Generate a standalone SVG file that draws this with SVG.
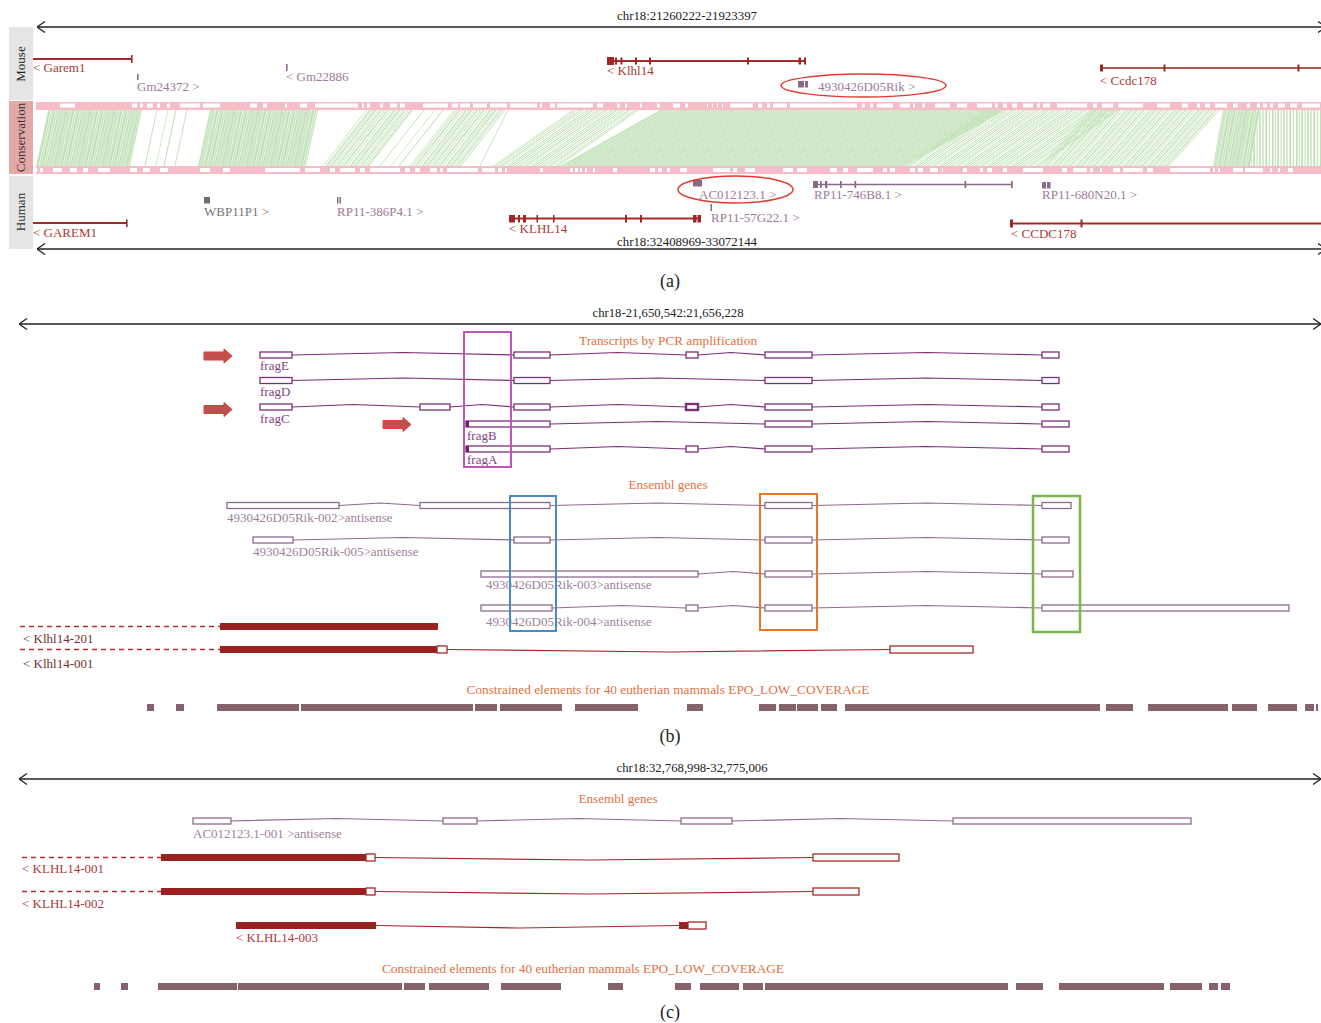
<svg xmlns="http://www.w3.org/2000/svg" width="1321" height="1023" viewBox="0 0 1321 1023">
<style>
text{font-family:"Liberation Serif","Times New Roman",serif;font-size:13px}
.ax{stroke:#222;stroke-width:1.4;fill:none}
.lbl{fill:#222}
.gr{fill:#a83a36}
.pg{fill:#9c7a98}
.gy{fill:#777}
.or{fill:#e2713f}
.fr{fill:#85417f}
.en{fill:#9e7f9b}
.k1{fill:#70302e}
.k2{fill:#aa3a38}
.gl{stroke:#a52a2a;stroke-width:1.8;fill:none}
.gf{fill:#a02525}
.pl{stroke:#8a6a88;stroke-width:1.5;fill:none}
.pf{fill:#8a6a88}
.ex{fill:#fff;stroke:#7d2e78;stroke-width:1.3}
.in{fill:none;stroke:#7d2e78;stroke-width:1.2}
.ex2{fill:#fff;stroke:#8f6a8d;stroke-width:1.3}
.in2{fill:none;stroke:#8f6a8d;stroke-width:1.2}
.rb{fill:#9b2020}
.rex{fill:#fff;stroke:#a52a2a;stroke-width:1.3}
.rin{fill:none;stroke:#a52a2a;stroke-width:1.2}
.dash{stroke:#b03030;stroke-width:1.3;stroke-dasharray:5 4;fill:none}
.ce{fill:#86636b}
.arr{fill:#c0504d;stroke:#e8393a;stroke-width:1}
.ell{fill:none;stroke:#e03a30;stroke-width:1.5}
.pk{fill:#f6bcc7}
.wh{fill:#fff}
.box{fill:none;stroke-width:2}
</style>
<defs>
<marker id="ch" viewBox="0 0 9 12" refX="8.5" refY="6" markerWidth="9" markerHeight="12" markerUnits="userSpaceOnUse" orient="auto-start-reverse"><path d="M0.5 0.5L8.5 6L0.5 11.5" fill="none" stroke="#222" stroke-width="1.3"/></marker>
<g id="sD" fill="#c0e0b5"><rect x="0" width="2.2" height="60"/><rect x="2.8" width="1.6" height="60"/><rect x="5" width="2.4" height="60"/><rect x="8" width="1.2" height="60"/><rect x="9.8" width="2" height="60"/><rect x="12.5" width="2.2" height="60"/><rect x="15.3" width="1.4" height="60"/><rect x="17.2" width="2.4" height="60"/><rect x="20.2" width="1.6" height="60"/><rect x="22.4" width="1.1" height="60"/></g>
<g id="sM" fill="#c0e0b5"><rect x="0" width="1.6" height="60"/><rect x="2.8" width="1" height="60"/><rect x="5.2" width="1.8" height="60"/><rect x="8.6" width="1" height="60"/><rect x="11" width="1.6" height="60"/><rect x="14.4" width="1.2" height="60"/><rect x="17.4" width="1.8" height="60"/><rect x="20.8" width="1" height="60"/></g>
<g id="sS" fill="#c0e0b5"><rect x="0" width="0.9" height="60"/><rect x="11" width="0.7" height="60"/><rect x="19" width="1.1" height="60"/></g>
<pattern id="p12D" patternUnits="userSpaceOnUse" width="24" height="60" patternTransform="skewX(-12.1)"><use href="#sD"/></pattern>
<pattern id="p12S" patternUnits="userSpaceOnUse" width="30" height="60" patternTransform="skewX(-12.1)"><use href="#sS"/></pattern>
<pattern id="p38M" patternUnits="userSpaceOnUse" width="24" height="60" patternTransform="skewX(-38.2)"><use href="#sM"/></pattern>
<pattern id="p38S" patternUnits="userSpaceOnUse" width="30" height="60" patternTransform="skewX(-38.2)"><use href="#sS"/></pattern>
<pattern id="p55M" patternUnits="userSpaceOnUse" width="24" height="60" patternTransform="skewX(-55)"><use href="#sM"/></pattern>
<pattern id="p61D" patternUnits="userSpaceOnUse" width="24" height="60" patternTransform="skewX(-60.75)"><use href="#sD"/></pattern>
<pattern id="p42M" patternUnits="userSpaceOnUse" width="24" height="60" patternTransform="skewX(-41.8)"><use href="#sM"/></pattern>
<pattern id="p10D" patternUnits="userSpaceOnUse" width="24" height="60" patternTransform="skewX(-10.1)"><use href="#sD"/></pattern>
<pattern id="p0M" patternUnits="userSpaceOnUse" width="24" height="60"><use href="#sM"/></pattern>
</defs>
<rect width="1321" height="1023" fill="#fff"/>

<!-- ============ Panel (a) ============ -->
<g id="panel-a">
<g id="a-axes">
<line class="ax" x1="37" y1="27" x2="1326" y2="27" marker-start="url(#ch)" marker-end="url(#ch)"/>
<text class="lbl" x="687" y="20" text-anchor="middle" textLength="140" lengthAdjust="spacingAndGlyphs">chr18:21260222-21923397</text>
<line class="ax" x1="37" y1="249" x2="1326" y2="249" marker-start="url(#ch)" marker-end="url(#ch)"/>
<text class="lbl" x="687" y="246" text-anchor="middle" textLength="140" lengthAdjust="spacingAndGlyphs">chr18:32408969-33072144</text>
</g>
<g id="side-labels">
<rect x="9" y="27" width="24" height="73" fill="#e5e5e7"/>
<text class="lbl" transform="translate(25,64) rotate(-90)" text-anchor="middle" fill="#333">Mouse</text>
<rect x="9" y="101" width="24" height="73" fill="#e2a9a6"/>
<text transform="translate(25,137.5) rotate(-90)" text-anchor="middle" fill="#333">Conservation</text>
<rect x="9" y="176" width="24" height="73" fill="#e5e5e7"/>
<text transform="translate(25,212) rotate(-90)" text-anchor="middle" fill="#333">Human</text>
</g>
<g id="mouse-track">
<line class="gl" x1="33" y1="59" x2="132" y2="59"/><rect class="gf" x="131" y="55" width="1.6" height="8"/>
<text class="gr" x="33" y="72">&lt; Garem1</text>
<rect class="pf" x="137" y="74" width="1.6" height="6"/>
<text class="pg" x="137" y="91">Gm24372 &gt;</text>
<rect class="pf" x="286" y="64" width="1.6" height="7"/>
<text class="pg" x="286" y="81">&lt; Gm22886</text>
<line class="gl" x1="607" y1="61" x2="806" y2="61"/>
<g class="gf"><rect x="607" y="57" width="7" height="8"/><rect x="615" y="57.5" width="2" height="7"/><rect x="620.5" y="57.5" width="2" height="7"/><rect x="635" y="57.5" width="2" height="7"/><rect x="649" y="57.5" width="2" height="7"/><rect x="747" y="57.5" width="2" height="7"/><rect x="798.5" y="57.5" width="2.5" height="7"/><rect x="804" y="57.5" width="2" height="7"/></g>
<text class="gr" x="607" y="75">&lt; Klhl14</text>
<rect class="pf" x="798" y="81" width="6" height="6.5"/><rect class="pf" x="805" y="81" width="3" height="6.5"/>
<text class="pg" x="818" y="91">4930426D05Rik &gt;</text>
<ellipse class="ell" cx="863.5" cy="85.5" rx="82.5" ry="11.5"/>
<line x1="1101" y1="68" x2="1321" y2="68" stroke="#b25555" stroke-width="1.8"/>
<g class="gf"><rect x="1100" y="64.5" width="3" height="7"/><rect x="1163.5" y="64.5" width="2" height="7"/><rect x="1297.5" y="64.5" width="2" height="7"/></g>
<text class="gr" x="1100" y="85">&lt; Ccdc178</text>
</g>
<g id="conservation">
<rect class="pk" x="36" y="102" width="1285" height="8"/>
<path class="wh" d="M60 103.5h15v4h-15zM132 103.5h5v4h-5zM140 103.5h3v4h-3zM147 103.5h6v4h-6zM157 103.5h3v4h-3zM167 103.5h3v4h-3zM180 103.5h20v4h-20zM203 103.5h17v4h-17zM250 103.5h7v4h-7zM263 103.5h4v4h-4zM285 103.5h2v4h-2zM300 103.5h7v4h-7zM315 103.5h43v4h-43zM362 103.5h2v4h-2zM367 103.5h3v4h-3zM380 103.5h3v4h-3zM390 103.5h7v4h-7zM400 103.5h5v4h-5zM423 103.5h25v4h-25zM452 103.5h6v4h-6zM460 103.5h10v4h-10zM473 103.5h14v4h-14zM490 103.5h17v4h-17zM510 103.5h27v4h-27zM540 103.5h2v4h-2zM550 103.5h5v4h-5zM557 103.5h36v4h-36zM597 103.5h6v4h-6zM617 103.5h3v4h-3zM625 103.5h2v4h-2zM640 103.5h2v4h-2zM657 103.5h3v4h-3zM673 103.5h7v4h-7zM685 103.5h3v4h-3zM707 103.5h1v4h-1zM712 103.5h1v4h-1zM717 103.5h1v4h-1zM722 103.5h1v4h-1zM730 103.5h23v4h-23zM758 103.5h4v4h-4zM767 103.5h3v4h-3zM773 103.5h14v4h-14zM790 103.5h67v4h-67zM862 103.5h3v4h-3zM870 103.5h3v4h-3zM877 103.5h16v4h-16zM900 103.5h10v4h-10zM913 103.5h2v4h-2zM922 103.5h3v4h-3zM935 103.5h15v4h-15zM957 103.5h10v4h-10zM977 103.5h15v4h-15zM995 103.5h3v4h-3zM1003 103.5h4v4h-4zM1012 103.5h5v4h-5zM1023 103.5h10v4h-10zM1037 103.5h3v4h-3zM1043 103.5h7v4h-7zM1057 103.5h30v4h-30zM1093 103.5h4v4h-4zM1102 103.5h11v4h-11zM1118 103.5h25v4h-25zM1157 103.5h13v4h-13zM1182 103.5h6v4h-6zM1197 103.5h3v4h-3zM1205 103.5h5v4h-5zM1215 103.5h12v4h-12zM1233 103.5h5v4h-5zM1247 103.5h3v4h-3zM1257 103.5h3v4h-3zM1263 103.5h4v4h-4zM1270 103.5h3v4h-3zM1278 103.5h7v4h-7zM1290 103.5h7v4h-7zM1302 103.5h18v4h-18z"/>
<polygon points="36,166 130,166 142,110 48,110" fill="url(#p12D)"/>
<polygon points="136,166 178,166 190,110 148,110" fill="url(#p12S)"/>
<polygon points="198,166 306,166 318,110 210,110" fill="url(#p12D)"/>
<polygon points="322,166 370,166 414,110 366,110" fill="url(#p38M)"/>
<polygon points="370,166 410,166 454,110 414,110" fill="url(#p38S)"/>
<polygon points="410,166 462,166 506,110 454,110" fill="url(#p38M)"/>
<line x1="480" y1="166" x2="508" y2="110" stroke="#c0e0b5" stroke-width="0.8"/>
<polygon points="492,166 560,166 640,110 572,110" fill="url(#p55M)"/>
<polygon points="560,166 905,166 1005,110 660,110" fill="url(#p61D)"/>
<polygon points="905,166 1040,166 1120,110 985,110" fill="url(#p55M)"/>
<polygon points="1040,166 1170,166 1220,110 1090,110" fill="url(#p42M)"/>
<polygon points="1213,166 1250,166 1260,110 1223,110" fill="url(#p10D)"/>
<polygon points="1250,166 1321,166 1321,110 1260,110" fill="url(#p0M)"/>
<rect class="pk" x="36" y="166" width="1285" height="8"/>
<path class="wh" d="M36 168h1v4h-1zM40 168h3v4h-3zM53 168h9v4h-9zM70 168h7v4h-7zM83 168h5v4h-5zM98 168h12v4h-12zM130 168h7v4h-7zM143 168h7v4h-7zM160 168h8v4h-8zM200 168h10v4h-10zM223 168h7v4h-7zM265 168h35v4h-35zM305 168h15v4h-15zM330 168h5v4h-5zM340 168h15v4h-15zM360 168h5v4h-5zM370 168h30v4h-30zM405 168h5v4h-5zM415 168h5v4h-5zM430 168h7v4h-7zM440 168h3v4h-3zM447 168h31v4h-31zM482 168h13v4h-13zM498 168h4v4h-4zM505 168h2v4h-2zM540 168h3v4h-3zM570 168h3v4h-3zM575 168h3v4h-3zM580 168h2v4h-2zM585 168h2v4h-2zM593 168h2v4h-2zM613 168h4v4h-4zM650 168h5v4h-5zM658 168h4v4h-4zM667 168h3v4h-3zM680 168h7v4h-7zM713 168h17v4h-17zM733 168h4v4h-4zM745 168h10v4h-10zM783 168h10v4h-10zM797 168h10v4h-10zM830 168h7v4h-7zM843 168h5v4h-5zM857 168h16v4h-16zM883 168h4v4h-4zM890 168h5v4h-5zM910 168h5v4h-5zM918 168h5v4h-5zM930 168h8v4h-8zM942 168h1v4h-1zM963 168h4v4h-4zM980 168h3v4h-3zM987 168h5v4h-5zM1003 168h4v4h-4zM1023 168h20v4h-20zM1062 168h5v4h-5zM1073 168h14v4h-14zM1090 168h3v4h-3zM1100 168h2v4h-2zM1113 168h7v4h-7zM1123 168h20v4h-20zM1147 168h6v4h-6zM1170 168h40v4h-40zM1213 168h2v4h-2zM1218 168h2v4h-2zM1233 168h10v4h-10zM1245 168h18v4h-18zM1270 168h2v4h-2zM1278 168h2v4h-2zM1288 168h5v4h-5z"/>
</g>
<g id="human-track">
<rect x="204" y="197" width="6" height="6.5" fill="#6e6e6e"/>
<text class="gy" x="204" y="216">WBP11P1 &gt;</text>
<rect class="pf" x="337" y="197" width="1.5" height="6.5"/><rect class="pf" x="339.5" y="197" width="1.5" height="6.5"/>
<text class="pg" x="337" y="216">RP11-386P4.1 &gt;</text>
<rect class="pf" x="693" y="180" width="9" height="6.5"/>
<text class="pg" x="699" y="199">AC012123.1 &gt;</text>
<ellipse class="ell" cx="735.5" cy="189.5" rx="57.5" ry="13.5"/>
<rect class="pf" x="710.5" y="204" width="1.5" height="7"/>
<text class="pg" x="711" y="222">RP11-57G22.1 &gt;</text>
<line class="pl" x1="814" y1="184.5" x2="1012" y2="184.5"/>
<g class="pf"><rect x="813" y="181" width="5" height="7"/><rect x="820" y="181" width="1.7" height="7"/><rect x="825" y="181" width="2.3" height="7"/><rect x="840" y="181" width="1.7" height="7"/><rect x="854.5" y="181" width="1.7" height="7"/><rect x="964.5" y="181" width="1.7" height="7"/><rect x="1011" y="181" width="1.7" height="7"/></g>
<text class="pg" x="814" y="199">RP11-746B8.1 &gt;</text>
<rect class="pf" x="1042" y="182" width="4" height="6.5"/><rect class="pf" x="1047" y="182" width="3.5" height="6.5"/>
<text class="pg" x="1042" y="199">RP11-680N20.1 &gt;</text>
<line class="gl" x1="33" y1="223" x2="127" y2="223"/><rect class="gf" x="126" y="219.5" width="1.6" height="7.5"/>
<text class="gr" x="33" y="237">&lt; GAREM1</text>
<line class="gl" x1="510" y1="218.5" x2="700" y2="218.5"/>
<g class="gf"><rect x="509" y="215" width="6" height="7.5"/><rect x="518" y="215" width="2" height="7.5"/><rect x="523" y="215" width="3" height="7.5"/><rect x="536.5" y="215" width="1.5" height="7.5"/><rect x="553" y="215" width="1.5" height="7.5"/><rect x="625" y="215" width="2" height="7.5"/><rect x="640" y="215" width="2" height="7.5"/><rect x="693" y="215" width="3.5" height="7.5"/><rect x="697.5" y="215" width="3.5" height="7.5"/></g>
<text class="gr" x="509" y="233">&lt; KLHL14</text>
<line class="gl" x1="1011" y1="223.5" x2="1321" y2="223.5"/>
<g class="gf"><rect x="1010" y="219.5" width="3" height="8"/><rect x="1080.5" y="219.5" width="2" height="8"/></g>
<text class="gr" x="1011" y="238">&lt; CCDC178</text>
</g>
<text class="lbl" x="670" y="287" text-anchor="middle" style="font-size:18px">(a)</text>
</g>

<!-- ============ Panel (b) ============ -->
<g id="panel-b">
<line class="ax" x1="19" y1="324" x2="1321" y2="324" marker-start="url(#ch)" marker-end="url(#ch)"/>
<text class="lbl" x="668" y="317" text-anchor="middle" textLength="151" lengthAdjust="spacingAndGlyphs">chr18-21,650,542:21,656,228</text>
<text class="or" x="668" y="345" text-anchor="middle" textLength="178" lengthAdjust="spacingAndGlyphs">Transcripts by PCR amplification</text>
<g id="pcr-arrows">
<path class="arr" d="M204 352H224V349L232 356L224 363V360H204Z"/>
<path class="arr" d="M204 405.5H224V402.5L232 409.5L224 416.5V413.5H204Z"/>
<path class="arr" d="M383 420.5H403V417.5L411 424.5L403 431.5V428.5H383Z"/>
</g>
<g id="fragE">
<path class="in" d="M292 355L403 352.5L514 355M550 355L618 352.5L686 355M698 355L731 352.5L765 355M812 355L927 352.5L1042 355"/>
<rect class="ex" x="260" y="352" width="32" height="6"/><rect class="ex" x="514" y="352" width="36" height="6"/><rect class="ex" x="686" y="352" width="12" height="6"/><rect class="ex" x="765" y="352" width="47" height="6"/><rect class="ex" x="1042" y="352" width="17" height="6"/>
<text class="fr" x="260" y="370">fragE</text>
</g>
<g id="fragD">
<path class="in" d="M292 380.5L403 378L514 380.5M550 380.5L658 378L765 380.5M812 380.5L927 378L1042 380.5"/>
<rect class="ex" x="260" y="377.5" width="32" height="6"/><rect class="ex" x="514" y="377.5" width="36" height="6"/><rect class="ex" x="765" y="377.5" width="47" height="6"/><rect class="ex" x="1042" y="377.5" width="17" height="6"/>
<text class="fr" x="260" y="396">fragD</text>
</g>
<g id="fragC">
<path class="in" d="M292 407L353 404.5L420 407M450 407L482 404.5L514 407M550 407L618 404.5L686 407M698 407L731 404.5L765 407M812 407L927 404.5L1042 407"/>
<rect class="ex" x="260" y="404" width="32" height="6"/><rect class="ex" x="420" y="404" width="30" height="6"/><rect class="ex" x="514" y="404" width="36" height="6"/><rect class="ex" x="686" y="404" width="12" height="6" style="stroke-width:2.4"/><rect class="ex" x="765" y="404" width="47" height="6"/><rect class="ex" x="1042" y="404" width="17" height="6"/>
<text class="fr" x="260" y="423">fragC</text>
</g>
<g id="fragB">
<path class="in" d="M550 424L658 421.5L765 424M812 424L927 421.5L1042 424"/>
<rect class="ex" x="466" y="421" width="84" height="6"/><rect x="466" y="421" width="3" height="6" fill="#6a2462"/><rect class="ex" x="765" y="421" width="47" height="6"/><rect class="ex" x="1042" y="421" width="27" height="6"/>
<text class="fr" x="467" y="440">fragB</text>
</g>
<g id="fragA">
<path class="in" d="M550 449L618 446.5L686 449M698 449L731 446.5L765 449M812 449L927 446.5L1042 449"/>
<rect class="ex" x="466" y="446" width="84" height="6"/><rect x="466" y="446" width="3" height="6" fill="#6a2462"/><rect class="ex" x="686" y="446" width="12" height="6"/><rect class="ex" x="765" y="446" width="47" height="6"/><rect class="ex" x="1042" y="446" width="27" height="6"/>
<text class="fr" x="467" y="464">fragA</text>
</g>
<rect class="box" x="464" y="332" width="47" height="135" stroke="#c055b5"/>
<text class="or" x="668" y="489" text-anchor="middle" textLength="79" lengthAdjust="spacingAndGlyphs">Ensembl genes</text>
<g id="rik-002">
<path class="in2" d="M339 505.5L380 503L420 505.5M550 505.5L658 503L765 505.5M812 505.5L927 503L1042 505.5"/>
<rect class="ex2" x="227" y="502.5" width="112" height="6"/><rect class="ex2" x="420" y="502.5" width="130" height="6"/><rect class="ex2" x="765" y="502.5" width="47" height="6"/><rect class="ex2" x="1042" y="502.5" width="29" height="6"/>
<text class="en" x="227" y="522">4930426D05Rik-002&gt;antisense</text>
</g>
<g id="rik-005">
<path class="in2" d="M293 540L403 537.5L514 540M550 540L658 537.5L765 540M812 540L927 537.5L1042 540"/>
<rect class="ex2" x="253" y="537" width="40" height="6"/><rect class="ex2" x="514" y="537" width="36" height="6"/><rect class="ex2" x="765" y="537" width="47" height="6"/><rect class="ex2" x="1042" y="537" width="27" height="6"/>
<text class="en" x="253" y="556">4930426D05Rik-005&gt;antisense</text>
</g>
<g id="rik-003">
<path class="in2" d="M698 574L733 571.5L765 574M812 574L927 571.5L1042 574"/>
<rect class="ex2" x="481" y="571" width="217" height="6"/><rect class="ex2" x="765" y="571" width="47" height="6"/><rect class="ex2" x="1042" y="571" width="31" height="6"/>
<text class="en" x="486" y="589">4930426D05Rik-003&gt;antisense</text>
</g>
<g id="rik-004">
<path class="in2" d="M552 608L622 605.5L686 608M698 608L733 605.5L765 608M812 608L927 605.5L1042 608"/>
<rect class="ex2" x="481" y="605" width="71" height="6"/><rect class="ex2" x="686" y="605" width="12" height="6"/><rect class="ex2" x="765" y="605" width="47" height="6"/><rect class="ex2" x="1042" y="605" width="247" height="6"/>
<text class="en" x="486" y="626">4930426D05Rik-004&gt;antisense</text>
</g>
<rect class="box" x="510" y="496" width="46" height="135" stroke="#4a88cc"/>
<rect class="box" x="760" y="494" width="57" height="136" stroke="#e8762a"/>
<rect class="box" x="1033" y="496" width="47" height="136" stroke="#7ab648" style="stroke-width:2.5"/>
<g id="klhl14-201">
<line class="dash" x1="20" y1="626.5" x2="220" y2="626.5"/>
<rect class="rb" x="220" y="623" width="218" height="7"/>
<text class="k1" x="23" y="643">&lt; Klhl14-201</text>
</g>
<g id="klhl14-001">
<line class="dash" x1="20" y1="649.5" x2="220" y2="649.5"/>
<path class="rin" d="M447 649.5L670 652L890 649.5"/>
<rect class="rb" x="220" y="646" width="217" height="7"/>
<rect class="rex" x="437" y="646" width="10" height="7"/>
<rect class="rex" x="890" y="646" width="83" height="7"/>
<text class="k1" x="23" y="668">&lt; Klhl14-001</text>
</g>
<text class="or" x="668" y="694" text-anchor="middle" textLength="403" lengthAdjust="spacingAndGlyphs">Constrained elements for 40 eutherian mammals EPO_LOW_COVERAGE</text>
<path class="ce" d="M147 704h7v7h-7zM176 704h8v7h-8zM217 704h82v7h-82zM301 704h172v7h-172zM475 704h22v7h-22zM500 704h62v7h-62zM575 704h63v7h-63zM687 704h16v7h-16zM759 704h17v7h-17zM779 704h17v7h-17zM797 704h21v7h-21zM821 704h16v7h-16zM845 704h255v7h-255zM1106 704h27v7h-27zM1148 704h80v7h-80zM1232 704h25v7h-25zM1268 704h29v7h-29zM1305 704h9v7h-9zM1316 704h2v7h-2z"/>
<text class="lbl" x="670" y="742" text-anchor="middle" style="font-size:18px">(b)</text>
</g>

<!-- ============ Panel (c) ============ -->
<g id="panel-c">
<line class="ax" x1="19" y1="779" x2="1321" y2="779" marker-start="url(#ch)" marker-end="url(#ch)"/>
<text class="lbl" x="692" y="772" text-anchor="middle" textLength="151" lengthAdjust="spacingAndGlyphs">chr18:32,768,998-32,775,006</text>
<text class="or" x="618" y="803" text-anchor="middle" textLength="79" lengthAdjust="spacingAndGlyphs">Ensembl genes</text>
<g id="ac012123">
<path class="in2" d="M231 821L337 818.5L443 821M477 821L578 818.5L681 821M732 821L840 818.5L953 821"/>
<rect class="ex2" x="193" y="818" width="38" height="6"/><rect class="ex2" x="443" y="818" width="34" height="6"/><rect class="ex2" x="681" y="818" width="51" height="6"/><rect class="ex2" x="953" y="818" width="238" height="6"/>
<text class="en" x="193" y="838">AC012123.1-001 &gt;antisense</text>
</g>
<g id="KLHL14-001">
<line class="dash" x1="22" y1="857.5" x2="161" y2="857.5"/>
<path class="rin" d="M375 857.5L590 860L813 857.5"/>
<rect class="rb" x="161" y="854" width="205" height="7"/>
<rect class="rex" x="366" y="854" width="9" height="7"/>
<rect class="rex" x="813" y="854" width="86" height="7"/>
<text class="k2" x="22" y="873">&lt; KLHL14-001</text>
</g>
<g id="KLHL14-002">
<line class="dash" x1="22" y1="891.5" x2="161" y2="891.5"/>
<path class="rin" d="M375 891.5L590 894L813 891.5"/>
<rect class="rb" x="161" y="888" width="205" height="7"/>
<rect class="rex" x="366" y="888" width="9" height="7"/>
<rect class="rex" x="813" y="888" width="46" height="7"/>
<text class="k2" x="22" y="908">&lt; KLHL14-002</text>
</g>
<g id="KLHL14-003">
<path class="rin" d="M376 925.5L520 928L679 925.5"/>
<rect class="rb" x="236" y="922" width="140" height="7"/>
<rect class="rb" x="679" y="922" width="9" height="7"/>
<rect class="rex" x="688" y="922" width="18" height="7"/>
<text class="k2" x="236" y="942">&lt; KLHL14-003</text>
</g>
<text class="or" x="583" y="973" text-anchor="middle" textLength="402" lengthAdjust="spacingAndGlyphs">Constrained elements for 40 eutherian mammals EPO_LOW_COVERAGE</text>
<path class="ce" d="M94 983h6v7h-6zM121 983h7v7h-7zM158 983h79v7h-79zM238 983h164v7h-164zM404 983h21v7h-21zM429 983h60v7h-60zM501 983h60v7h-60zM608 983h15v7h-15zM675 983h16v7h-16zM700 983h39v7h-39zM743 983h20v7h-20zM765 983h243v7h-243zM1016 983h27v7h-27zM1059 983h105v7h-105zM1170 983h32v7h-32zM1209 983h9v7h-9zM1221 983h9v7h-9z"/>
<text class="lbl" x="670" y="1018" text-anchor="middle" style="font-size:18px">(c)</text>
</g>
</svg>
